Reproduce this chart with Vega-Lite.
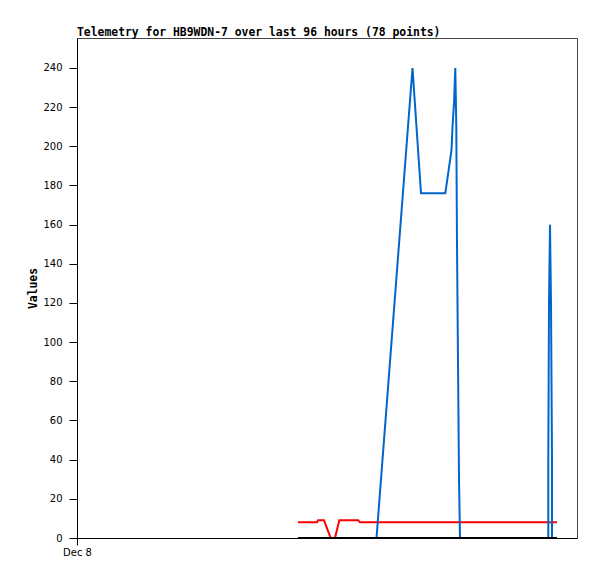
{
  "$schema": "https://vega.github.io/schema/vega-lite/v6.json",
  "width": 500,
  "height": 500,
  "autosize": {"type": "none"},
  "padding": {"left": 77, "top": 38, "right": 20, "bottom": 41},
  "background": "white",
  "title": {
    "text": "Telemetry for HB9WDN-7 over last 96 hours (78 points)",
    "anchor": "start",
    "frame": "group",
    "font": "DejaVu Sans Mono",
    "fontWeight": "bold",
    "fontSize": 11.4,
    "color": "black",
    "offset": 0
  },
  "config": {
    "view": {"stroke": "#444", "strokeWidth": 1},
    "axis": {
      "labelFont": "DejaVu Sans",
      "labelFontSize": 10,
      "labelColor": "black",
      "tickColor": "black",
      "domainColor": "black",
      "grid": false,
      "titleFont": "DejaVu Sans Mono",
      "titleFontWeight": "bold",
      "titleFontSize": 11.4,
      "titleColor": "black"
    }
  },
  "data": {
    "values": [
      {"series": "red", "t": 11.05, "v": 8},
      {"series": "red", "t": 12.0, "v": 8},
      {"series": "red", "t": 12.05, "v": 9},
      {"series": "red", "t": 12.35, "v": 9},
      {"series": "red", "t": 12.685, "v": 0},
      {"series": "red", "t": 12.9, "v": 0},
      {"series": "red", "t": 13.115, "v": 9},
      {"series": "red", "t": 14.065, "v": 9},
      {"series": "red", "t": 14.15, "v": 8},
      {"series": "red", "t": 24.0, "v": 8},
      {"series": "blue", "t": 11.05, "v": 0},
      {"series": "blue", "t": 14.975, "v": 0},
      {"series": "blue", "t": 16.775, "v": 240},
      {"series": "blue", "t": 17.2, "v": 176},
      {"series": "blue", "t": 18.415, "v": 176},
      {"series": "blue", "t": 18.725, "v": 198},
      {"series": "blue", "t": 18.775, "v": 210},
      {"series": "blue", "t": 18.85, "v": 222},
      {"series": "blue", "t": 18.915, "v": 240},
      {"series": "blue", "t": 18.965, "v": 210},
      {"series": "blue", "t": 19.0, "v": 150},
      {"series": "blue", "t": 19.05, "v": 90},
      {"series": "blue", "t": 19.1, "v": 30},
      {"series": "blue", "t": 19.15, "v": 0},
      {"series": "blue", "t": 23.565, "v": 0},
      {"series": "blue", "t": 23.565, "v": 40},
      {"series": "blue", "t": 23.6, "v": 120},
      {"series": "blue", "t": 23.65, "v": 160},
      {"series": "blue", "t": 23.7, "v": 120},
      {"series": "blue", "t": 23.75, "v": 40},
      {"series": "blue", "t": 23.75, "v": 0},
      {"series": "blue", "t": 24.0, "v": 0},
      {"series": "black", "t": 11.05, "v": 0},
      {"series": "black", "t": 24.0, "v": 0}
    ]
  },
  "encoding": {
    "x": {
      "field": "t",
      "type": "quantitative",
      "scale": {"domain": [0, 25], "nice": false, "zero": false},
      "axis": {
        "title": null,
        "values": [0],
        "labelExpr": "'Dec 8'",
        "tickSize": 7,
        "labelPadding": 2,
        "labelFlush": false
      }
    },
    "y": {
      "field": "v",
      "type": "quantitative",
      "scale": {"domain": [0, 255.3], "nice": false},
      "axis": {
        "title": "Values",
        "values": [0, 20, 40, 60, 80, 100, 120, 140, 160, 180, 200, 220, 240],
        "tickSize": 8,
        "labelPadding": 7,
        "titlePadding": 4
      }
    }
  },
  "layer": [
    {
      "transform": [{"filter": "datum.series === 'red'"}],
      "mark": {"type": "line", "color": "#ff0000", "strokeWidth": 2, "clip": true}
    },
    {
      "transform": [{"filter": "datum.series === 'blue'"}],
      "mark": {"type": "line", "color": "#0066cc", "strokeWidth": 2, "clip": true}
    },
    {
      "transform": [{"filter": "datum.series === 'black'"}],
      "mark": {"type": "line", "color": "#000000", "strokeWidth": 2, "clip": true}
    }
  ]
}
